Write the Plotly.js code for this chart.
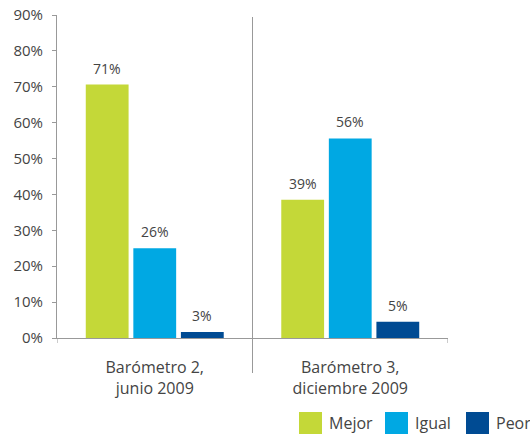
<!DOCTYPE html>
<html>
<head>
<meta charset="utf-8">
<script src="https://cdn.plot.ly/plotly-3.0.1.min.js"></script>
<style>html,body{margin:0;padding:0;background:#fff;}#chart{width:530px;height:435px;}</style>
</head>
<body>
<div id="chart"></div>
<script>
// Data
var categories = ["Barómetro 2,<br>junio 2009", "Barómetro 3,<br>diciembre 2009"];
var seriesNames = ["Mejor", "Igual", "Peor"];
var seriesColors = ["#c4d838", "#00a8e3", "#004b93"];
var mejorValues = [70.6, 38.5];
var igualValues = [25.0, 55.6];
var peorValues = [1.7, 4.5];
var mejorLabels = ["71%", "39%"];
var igualLabels = ["26%", "56%"];
var peorLabels = ["3%", "5%"];
var yTickVals = [0, 10, 20, 30, 40, 50, 60, 70, 80, 90];
var yTickText = ["0%", "10%", "20%", "30%", "40%", "50%", "60%", "70%", "80%", "90%"];

var values = [mejorValues, igualValues, peorValues];
var labels = [mejorLabels, igualLabels, peorLabels];

var FONT = "Open Sans, Noto Sans, sans-serif";
var bargap = 0.27;
var traces = values.map(function (v, i) {
  return {
    type: "bar",
    x: [0, 1],
    y: v,
    name: seriesNames[i],
    marker: { color: seriesColors[i], line: { width: 0 } },
    hoverinfo: "none",
    showlegend: false
  };
});

// value labels above bars
var annotations = [];
var slot = (1 - bargap) / 3;
labels.forEach(function (lab, i) {
  lab.forEach(function (t, c) {
    annotations.push({
      x: c + (i - 1) * slot, y: values[i][c], xref: "x", yref: "y",
      text: t, showarrow: false, yanchor: "bottom", yshift: 5,
      font: { family: FONT, size: 14, color: "#444" }
    });
  });
});

// custom legend (large squares)
var L = 57, W = 391, T = 15, H = 323;
function px(x) { return (x - L) / W; }
function py(y) { return (T + H - y) / H; }
var legSquareX = [299, 385, 466];
var shapes = [
  { type: "line", xref: "x", yref: "paper", x0: 0.5, x1: 0.5, y0: py(373), y1: py(17),
    line: { color: "#999", width: 1 } }
];
seriesNames.forEach(function (n, i) {
  shapes.push({ type: "rect", xref: "paper", yref: "paper",
    x0: px(legSquareX[i]), x1: px(legSquareX[i] + 23), y0: py(434), y1: py(412),
    fillcolor: seriesColors[i], line: { width: 0 } });
  annotations.push({ xref: "paper", yref: "paper", x: px(legSquareX[i] + 28), y: py(423),
    xanchor: "left", yanchor: "middle", text: n, showarrow: false,
    font: { family: FONT, size: 16, color: "#444" } });
});

var layout = {
  width: 530, height: 435,
  margin: { l: L, r: 530 - L - W, t: T, b: 435 - T - H },
  paper_bgcolor: "#fff", plot_bgcolor: "#fff",
  barmode: "group", bargap: bargap, bargroupgap: 0.1,
  showlegend: false,
  xaxis: {
    type: "linear", range: [-0.5, 1.5],
    tickmode: "array", tickvals: [0, 1], ticktext: categories,
    showgrid: false, zeroline: false,
    showline: true, linecolor: "#999", linewidth: 1,
    ticks: "", ticklabelstandoff: 15,
    tickfont: { family: FONT, size: 16, color: "#444" },
    fixedrange: true
  },
  yaxis: {
    range: [0, 90], tickmode: "array", tickvals: yTickVals, ticktext: yTickText,
    showgrid: false, zeroline: false,
    showline: true, linecolor: "#999", linewidth: 1,
    ticks: "outside", ticklen: 4, tickcolor: "#999",
    ticklabelstandoff: 6,
    tickfont: { family: FONT, size: 15, color: "#444" },
    fixedrange: true
  },
  shapes: shapes.concat([
    { type: "line", xref: "x", yref: "paper", x0: -0.5, x1: -0.5, y0: py(343), y1: 0, line: { color: "#999", width: 1 } },
    { type: "line", xref: "x", yref: "paper", x0: 1.5, x1: 1.5, y0: py(343), y1: 0, line: { color: "#999", width: 1 } }
  ]),
  annotations: annotations
};

Plotly.newPlot("chart", traces, layout, { displayModeBar: false, staticPlot: true });
</script>
</body>
</html>
